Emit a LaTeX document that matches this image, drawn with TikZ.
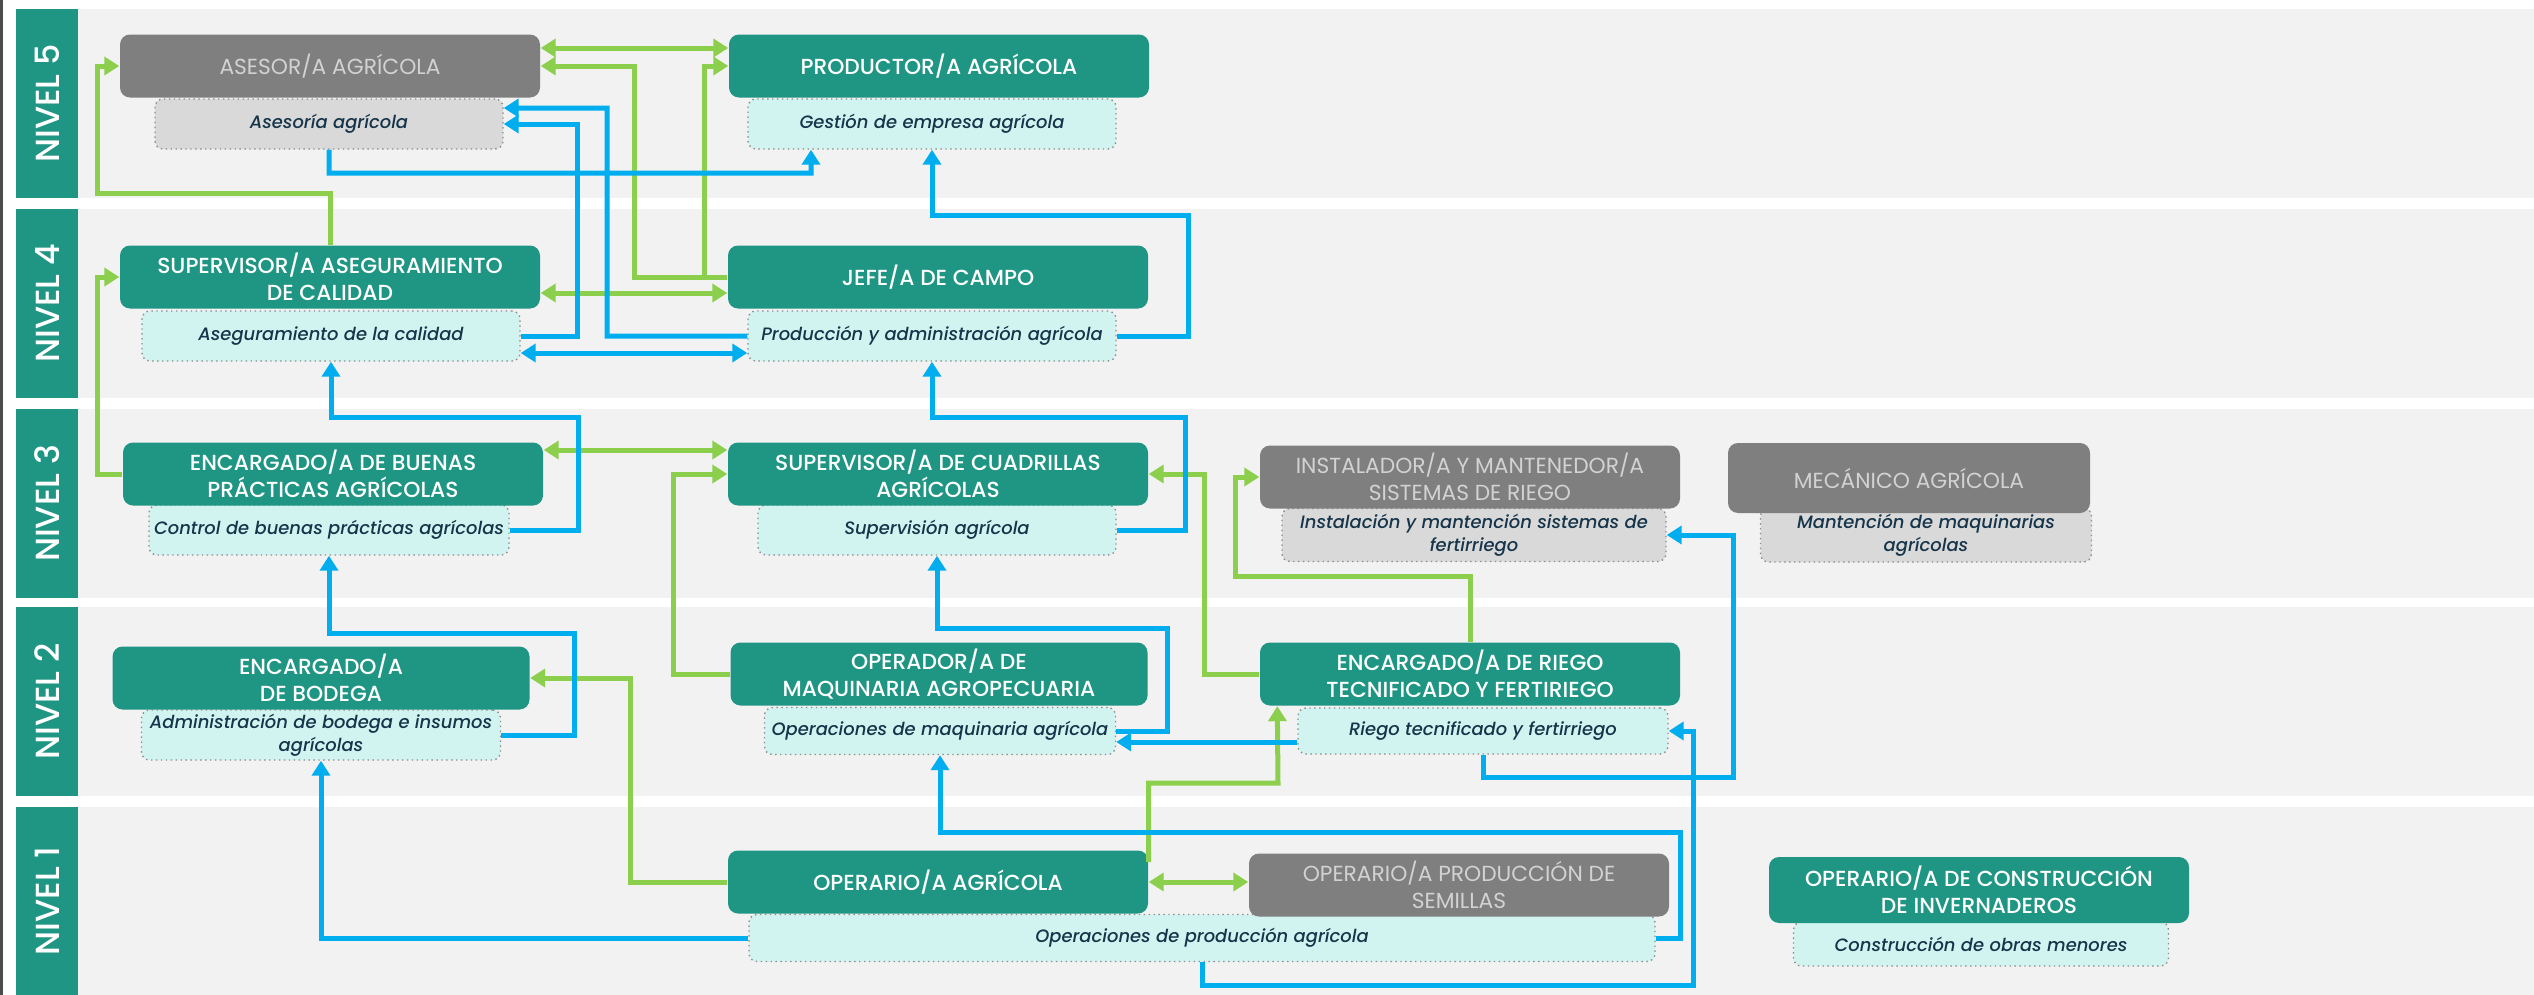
\documentclass[tikz,border=0pt]{standalone}
\usepackage{fontspec}
\setmainfont{Poppins}
\newfontfamily\jobfont{Poppins Medium}
\newfontfamily\taskfont{Poppins Medium Italic}
\usetikzlibrary{positioning,arrows.meta,calc}
\definecolor{tealbox}{HTML}{1F9683}
\definecolor{graybox}{HTML}{7F7F7F}
\definecolor{graytext}{HTML}{D2D2D2}
\definecolor{cyanbg}{HTML}{D2F4F1}
\definecolor{graybg}{HTML}{D9D9D9}
\definecolor{tasktext}{HTML}{16354A}
\definecolor{dotgray}{HTML}{8C8C8C}
\definecolor{bandgray}{HTML}{F2F2F2}
\definecolor{linegreen}{HTML}{8CCF4D}
\definecolor{lineblue}{HTML}{00AEEF}

\begin{document}
\begin{tikzpicture}[x=0.1mm,y=-0.1mm,>={Triangle[length=1.5mm,width=1.8mm]},
job/.style = {fill=tealbox, rounded corners=1mm, text=white, align=center, inner sep=0pt, minimum width=42mm, minimum height=6.3mm, font=\jobfont\fontsize{6.2}{7.6}\selectfont},
jobgray/.style = {job, fill=graybox, text=graytext, font=\fontsize{6.2}{7.6}\selectfont},
task/.style = {draw=dotgray, densely dotted, fill=cyanbg, rounded corners=0.8mm, text=tasktext, align=center, inner sep=0pt, minimum height=5mm, font=\taskfont\fontsize{5.1}{6.6}\selectfont},
taskgray/.style = {task, fill=graybg},
levelbox/.style = {fill=tealbox, text=white, rotate=90, minimum width=18.9mm, minimum height=6.2mm, inner sep=0pt, font=\jobfont\fontsize{9.5}{10}\selectfont},
garrow/.style = {->, draw=linegreen, line width=0.5mm},
barrow/.style = {->, draw=lineblue, line width=0.5mm},
]
\useasboundingbox (0,0) rectangle (2534,995);
\fill[white] (0,0) rectangle (2534,995);
\draw[line width=0.35mm, black!70] (1.75,0) -- (1.75,995);
%level bands
\foreach \ytop/\ybot/\n in {9/198/5, 209/398/4, 409/598/3, 607/796/2, 807/995/1}{
  \fill[bandgray] (78,\ytop) rectangle (2534,\ybot);
  \node (nivel\n) at (47,{(\ytop+\ybot)/2})[levelbox] {NIVEL \n};
}
%Level 5
\node (asesoria) at (329,124)[taskgray, minimum width=34.8mm] {Asesoría agrícola};
\node (asesor) at (330,66)[jobgray] {ASESOR/A AGRÍCOLA};
\node (gestion) at (932,124)[task, minimum width=36.8mm] {Gestión de empresa agrícola};
\node (productor) at (939,66)[job] {PRODUCTOR/A AGRÍCOLA};
%Level 4
\node (asegur) at (331,336)[task, minimum width=37.8mm] {Aseguramiento de la calidad};
\node (supase) at (330,277)[job] {SUPERVISOR/A ASEGURAMIENTO\\DE CALIDAD};
\node (produccion) at (932,336)[task, minimum width=36.8mm] {Producción y administración agrícola};
\node (jefe) at (938,277)[job] {JEFE/A DE CAMPO};
%Level 3
\node (control) at (329,530)[task, minimum width=36mm] {Control de buenas prácticas agrícolas};
\node (bpa) at (333,474)[job] {ENCARGADO/A DE BUENAS\\PRÁCTICAS AGRÍCOLAS};
\node (supervision) at (937,530)[task, minimum width=35.8mm] {Supervisión agrícola};
\node (cuadrillas) at (938,474)[job] {SUPERVISOR/A DE CUADRILLAS\\AGRÍCOLAS};
\node (instalacion) at (1474,535)[taskgray, minimum width=38.4mm, minimum height=5.3mm] {Instalación y mantención sistemas de\\fertirriego};
\node (instalador) at (1470,477)[jobgray] {INSTALADOR/A Y MANTENEDOR/A\\SISTEMAS DE RIEGO};
\node (mantencion) at (1926,535)[taskgray, minimum width=33.1mm, minimum height=5.4mm] {Mantención de maquinarias\\agrícolas};
\node (mecanico) at (1909,478)[jobgray, minimum width=36.2mm, minimum height=7mm] {MECÁNICO AGRÍCOLA};
%Level 2
\node (administracion) at (321,735)[task, minimum width=35.9mm] {Administración de bodega e insumos\\agrícolas};
\node (bodega) at (321,678)[job, minimum width=41.7mm] {ENCARGADO/A\\DE BODEGA};
\node (opmaq) at (940,731)[task, minimum width=35.1mm, minimum height=4.7mm] {Operaciones de maquinaria agrícola};
\node (operador) at (939,674)[job, minimum width=41.7mm] {OPERADOR/A DE\\MAQUINARIA AGROPECUARIA};
\node (riegosub) at (1483,731)[task, minimum width=37mm, minimum height=4.6mm] {Riego tecnificado y fertirriego};
\node (riego) at (1470,674)[job] {ENCARGADO/A DE RIEGO\\TECNIFICADO Y FERTIRIEGO};
%Level 1
\node (opprod) at (1202,938)[task, minimum width=90.6mm, minimum height=4.7mm] {Operaciones de producción agrícola};
\node (operario) at (938,882)[job] {OPERARIO/A AGRÍCOLA};
\node (semillas) at (1459,885)[jobgray] {OPERARIO/A PRODUCCIÓN DE\\SEMILLAS};
\node (construccionsub) at (1981,944)[task, minimum width=37.5mm, minimum height=4.4mm] {Construcción de obras menores};
\node (construccion) at (1979,890)[job, minimum height=6.6mm] {OPERARIO/A DE CONSTRUCCIÓN\\DE INVERNADEROS};
%green arrows
\draw[garrow,<->] ([yshift=1.8mm]asesor.east) -- ([yshift=1.8mm]productor.west);
\draw[garrow] (jefe.west) -| (634,66) -- (asesor.east);
\draw[garrow] (jefe.west) -| (704,66) -- (productor.west);
\draw[garrow,<->] ([yshift=-1.6mm]supase.east) -- ([yshift=-1.6mm]jefe.west);
\draw[garrow] (supase.north) |- (97,193) |- (asesor.west);
\draw[garrow] (bpa.west) -| (97,277) -- (supase.west);
\draw[garrow,<->] ([yshift=2.4mm]bpa.east) -- ([yshift=2.4mm]cuadrillas.west);
\draw[garrow] (operador.west) -| (673,474) -- (cuadrillas.west);
\draw[garrow] (riego.west) -| (1204,474) -- (cuadrillas.east);
\draw[garrow] (riego.north) |- (1235,576) |- (instalador.west);
\draw[garrow] (operario.west) -| (630,678) -- (bodega.east);
\draw[garrow] ([yshift=2mm]operario.east) |- (1278,783) -- ([xshift=1.8mm]riego.south west);
\draw[garrow,<->] (operario.east) -- (operario.east -| semillas.west);
%blue arrows
\draw[barrow] (asegur.east) -| (577,124) -- (asesoria.east);
\draw[barrow] (produccion.west) -| (607,108) -- ([yshift=1.6mm]asesoria.east);
\draw[barrow,<->] ([yshift=-1.7mm]asegur.east) -- ([yshift=-1.7mm]produccion.west);
\draw[barrow] (asesoria.south) |- (811,173) -- ([xshift=-12.1mm]gestion.south);
\draw[barrow] (produccion.east) -| (1188,215) -| (gestion.south);
\draw[barrow] (control.east) -| (578,417) -| (asegur.south);
\draw[barrow] (supervision.east) -| (1185,417) -| (produccion.south);
\draw[barrow] (administracion.east) -| (574,633) -| (control.south);
\draw[barrow] (opmaq.east) -| (1167,628) -| (supervision.south);
\draw[barrow] ([yshift=-1.1mm]riegosub.west) -- ([yshift=-1.1mm]opmaq.east);
\draw[barrow] (riegosub.south) |- (1733,777) |- (instalacion.east);
\draw[barrow] (opprod.west) -| (administracion.south);
\draw[barrow] (opprod.east) -| (1680,832) -| (opmaq.south);
\draw[barrow] (opprod.south) |- (1693,985) |- (riegosub.east);
\end{tikzpicture}
\end{document}
